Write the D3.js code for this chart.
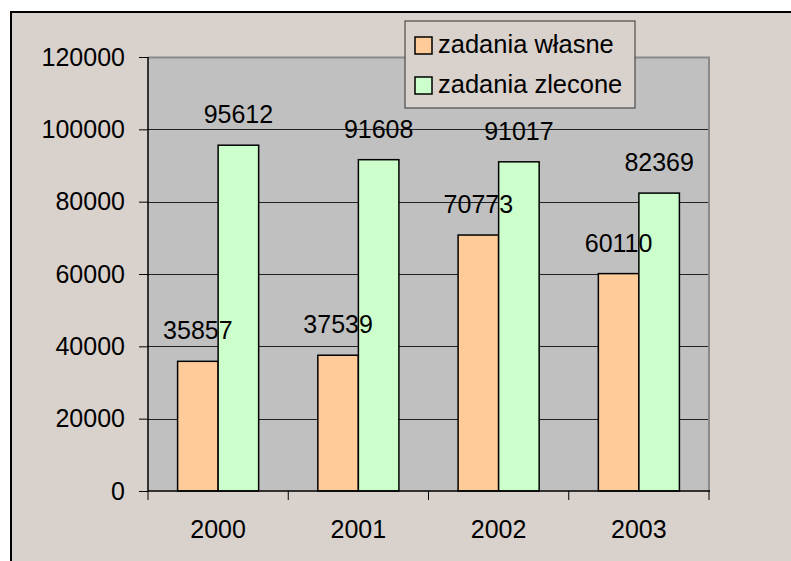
<!DOCTYPE html>
<html>
<head>
<meta charset="utf-8">
<script src="https://d3js.org/d3.v7.min.js"></script>
<style>
  html, body { margin: 0; padding: 0; background: #fff; }
  svg { display: block; font-family: "Liberation Sans", Arial, sans-serif; }
</style>
</head>
<body>
<svg id="svg" width="791" height="561"></svg>
<script>
// dane
const years = ["2000", "2001", "2002", "2003"];
const wlasne = [35857, 37539, 70773, 60110];
const zlecone = [95612, 91608, 91017, 82369];
const seriesNames = ["zadania własne", "zadania zlecone"];
const seriesColors = ["#ffcc99", "#ccffcc"];
const yTicks = [0, 20000, 40000, 60000, 80000, 100000, 120000];

const svg = d3.select("#svg");
const bg = "#d9d1cb";

// tło i ramka wykresu
svg.append("rect")
  .attr("x", 11).attr("y", 12)
  .attr("width", 800).attr("height", 570)
  .attr("fill", bg).attr("stroke", "#000").attr("stroke-width", 2);

const plot = { left: 148, top: 57, right: 709, bottom: 491 };

const x = d3.scaleBand().domain(years).range([plot.left, plot.right]);
const inner = d3.scaleBand().domain([0, 1]).range([0, x.bandwidth()]).paddingOuter(0.73).paddingInner(0);
const y = d3.scaleLinear().domain([0, 120000]).range([plot.bottom, plot.top]);

// obszar kreślenia
svg.append("rect")
  .attr("x", plot.left).attr("y", plot.top)
  .attr("width", plot.right - plot.left).attr("height", plot.bottom - plot.top)
  .attr("fill", "#c0c0c0");

// linie siatki
svg.append("g").selectAll("line")
  .data(yTicks.filter(d => d > 0 && d < 120000))
  .join("line")
  .attr("x1", plot.left).attr("x2", plot.right)
  .attr("y1", d => Math.round(y(d)) + 0.5).attr("y2", d => Math.round(y(d)) + 0.5)
  .attr("stroke", "#222").attr("stroke-width", 1);

// ramka obszaru (szara góra i prawa)
svg.append("path")
  .attr("d", `M${plot.left},${plot.top + 0.5}H${plot.right}V${plot.bottom}`)
  .attr("fill", "none").attr("stroke", "#8a8a8a").attr("stroke-width", 2);

// słupki
const data = years.map((yr, i) => [wlasne[i], zlecone[i]]);
const groups = svg.append("g").selectAll("g")
  .data(data)
  .join("g")
  .attr("transform", (d, i) => `translate(${x(years[i])},0)`);

groups.selectAll("rect")
  .data(d => d.map((v, j) => ({ v, j })))
  .join("rect")
  .attr("x", d => inner(d.j))
  .attr("y", d => y(d.v))
  .attr("width", inner.bandwidth())
  .attr("height", d => y(0) - y(d.v))
  .attr("fill", d => seriesColors[d.j])
  .attr("stroke", "#000").attr("stroke-width", 1.5);

// osie
const yAxis = d3.axisLeft(y).tickValues(yTicks).tickSize(9).tickPadding(14).tickFormat(d3.format("d"));
const gy = svg.append("g").attr("transform", `translate(${plot.left},0)`).call(yAxis);
gy.select(".domain").attr("stroke", "#000").attr("stroke-width", 1.5).attr("d", `M0,${plot.top}V${plot.bottom}`);
gy.selectAll(".tick line").attr("stroke", "#000");
gy.selectAll("text").attr("font-size", 25).attr("fill", "#000").attr("font-family", "Liberation Sans, Arial, sans-serif");

const gx = svg.append("g").attr("transform", `translate(0,${plot.bottom})`);
gx.append("line")
  .attr("x1", plot.left).attr("x2", plot.right + 1)
  .attr("y1", 0).attr("y2", 0)
  .attr("stroke", "#000").attr("stroke-width", 1.5);
gx.selectAll("line.tk")
  .data(d3.range(years.length + 1))
  .join("line").attr("class", "tk")
  .attr("x1", i => plot.left + i * x.bandwidth()).attr("x2", i => plot.left + i * x.bandwidth())
  .attr("y1", 0).attr("y2", 9)
  .attr("stroke", "#000").attr("stroke-width", 1);
gx.selectAll("text")
  .data(years)
  .join("text")
  .attr("x", d => x(d) + x.bandwidth() / 2)
  .attr("y", 47)
  .attr("text-anchor", "middle")
  .attr("font-size", 25)
  .text(d => d);

// etykiety wartości
groups.selectAll("text")
  .data(d => d.map((v, j) => ({ v, j })))
  .join("text")
  .attr("x", d => inner(d.j) + inner.bandwidth() / 2)
  .attr("y", d => y(d.v) - 22)
  .attr("text-anchor", "middle")
  .attr("font-size", 25)
  .text(d => d.v);

// legenda
const leg = svg.append("g").attr("transform", "translate(405,21)");
leg.append("rect")
  .attr("width", 230).attr("height", 87)
  .attr("fill", bg).attr("stroke", "#333").attr("stroke-width", 1);
seriesNames.forEach((name, i) => {
  leg.append("rect")
    .attr("x", 10).attr("y", 16 + i * 40)
    .attr("width", 17).attr("height", 17)
    .attr("fill", seriesColors[i]).attr("stroke", "#000").attr("stroke-width", 1.5);
  leg.append("text")
    .attr("x", 33).attr("y", 32 + i * 40)
    .attr("font-size", 25.5)
    .text(name);
});
</script>
</body>
</html>
